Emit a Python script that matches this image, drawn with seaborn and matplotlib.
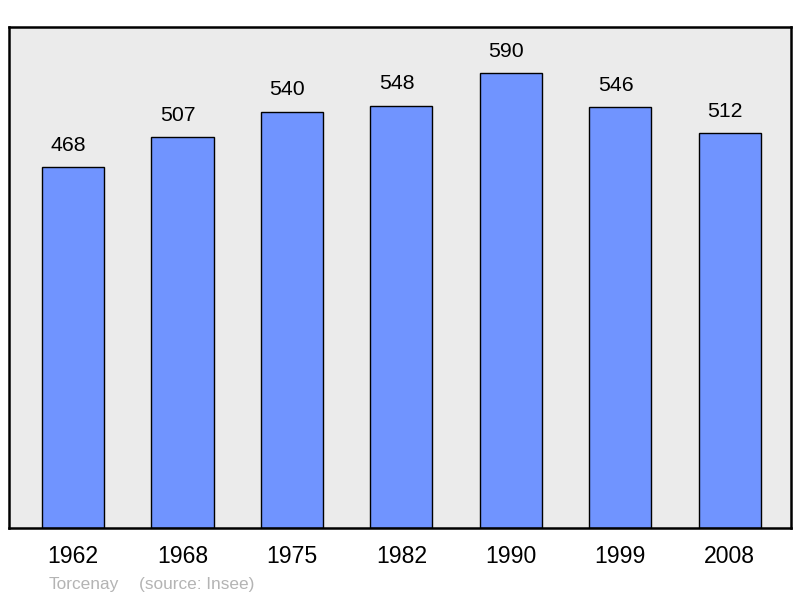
import matplotlib
matplotlib.use("Agg")
import matplotlib.pyplot as plt
import seaborn as sns
import pandas as pd

years = ["1962", "1968", "1975", "1982", "1990", "1999", "2008"]
population = [468, 507, 540, 548, 590, 546, 512]
footer_place = "Torcenay"
footer_source = "(source: Insee)"

sns.set_theme(style="white")
plt.rcParams['font.family'] = ['Liberation Sans', 'DejaVu Sans']

df = pd.DataFrame({"year": years, "pop": population})

fig = plt.figure(figsize=(8, 5.98), dpi=100)
ax = fig.add_axes([9/800, 1 - 528/598, 782/800, (528-27)/598])
ax.set_facecolor("#ebebeb")

sns.barplot(data=df, x="year", y="pop", color="#7094ff", saturation=1,
            width=0.567, edgecolor="black", linewidth=1.0, ax=ax)

ax.set_xlim(-0.585, 6.56)
ax.set_ylim(0, 650)
ax.set_xlabel("")
ax.set_ylabel("")
ax.set_yticks([])
ax.tick_params(axis="x", length=0, labelsize=16.6, pad=12.5, colors="black")

for i, v in enumerate(population):
    ax.annotate(str(v), xy=(i, v), xytext=(-4.5, 22), textcoords="offset pixels",
                ha="center", va="center", fontsize=15.3, color="black")

for s in ax.spines.values():
    s.set_visible(True)
    s.set_color("black")
    s.set_linewidth(1.8)

fig.text(49/800, 1 - 584/598, footer_place, fontsize=12.4, color="#b4b4b4",
         ha="left", va="center")
fig.text(139/800, 1 - 584/598, footer_source, fontsize=12.4, color="#b4b4b4",
         ha="left", va="center")

fig.savefig("out.png", dpi=100)
